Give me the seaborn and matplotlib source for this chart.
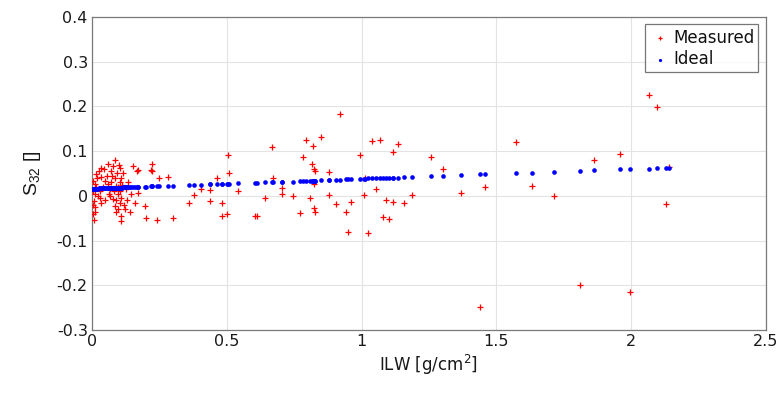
import matplotlib
matplotlib.use("Agg")
import matplotlib.pyplot as plt
import seaborn as sns
import pandas as pd

# ---- data ----
ilw = [0.002, 0.003, 0.004, 0.005, 0.007, 0.007, 0.010, 0.010, 0.010, 0.012,
       0.015, 0.016, 0.018, 0.022, 0.025, 0.029, 0.030, 0.035, 0.035, 0.035,
       0.040, 0.045, 0.047, 0.050, 0.055, 0.059, 0.059, 0.062, 0.066, 0.066,
       0.070, 0.072, 0.075, 0.078, 0.078, 0.080, 0.084, 0.084, 0.085, 0.088,
       0.090, 0.090, 0.092, 0.095, 0.096, 0.098, 0.100, 0.103, 0.103, 0.103,
       0.105, 0.108, 0.109, 0.109, 0.109, 0.112, 0.115, 0.118, 0.121, 0.125,
       0.130, 0.135, 0.140, 0.145, 0.152, 0.158, 0.168, 0.172, 0.172, 0.198,
       0.200, 0.220, 0.223, 0.224, 0.240, 0.250, 0.283, 0.302, 0.360, 0.378,
       0.403, 0.438, 0.438, 0.462, 0.481, 0.481, 0.502, 0.504, 0.509, 0.543,
       0.605, 0.611, 0.642, 0.666, 0.670, 0.706, 0.706, 0.744, 0.772, 0.784,
       0.793, 0.809, 0.817, 0.819, 0.823, 0.825, 0.825, 0.827, 0.827, 0.851,
       0.879, 0.880, 0.904, 0.920, 0.941, 0.948, 0.959, 0.994, 1.009, 1.013,
       1.025, 1.040, 1.053, 1.067, 1.078, 1.089, 1.103, 1.115, 1.118, 1.135,
       1.159, 1.187, 1.259, 1.303, 1.370, 1.440, 1.456, 1.574, 1.633, 1.712,
       1.811, 1.861, 1.958, 1.997, 2.066, 2.097, 2.129, 2.141]

measured = [-0.040, 0.010, 0.034, -0.020, -0.011, -0.054, 0.026, 0.004, -0.026, -0.037,
            0.020, 0.049, 0.040, 0.000, 0.055, 0.011, -0.005, 0.063, 0.043, -0.015,
            0.020, 0.060, 0.034, -0.010, 0.045, 0.072, 0.026, 0.005, 0.000, 0.015,
            0.030, 0.055, 0.045, 0.067, -0.007, 0.010, 0.080, -0.022, 0.040, -0.010,
            0.022, -0.037, 0.050, -0.030, 0.004, 0.020, 0.070, 0.063, 0.030, -0.015,
            0.010, -0.005, 0.041, -0.045, -0.056, 0.025, 0.050, -0.020, -0.030, 0.015,
            -0.010, 0.030, -0.035, 0.005, 0.067, -0.015, 0.056, 0.058, 0.007, -0.022,
            -0.049, 0.058, 0.071, 0.056, -0.054, 0.040, 0.043, -0.050, -0.015, 0.001,
            0.015, 0.013, -0.011, 0.039, -0.017, -0.045, -0.040, 0.091, 0.052, 0.010,
            -0.045, -0.045, -0.004, 0.110, 0.041, 0.017, 0.004, -0.001, -0.039, 0.086,
            0.126, -0.004, 0.072, 0.111, 0.026, 0.060, -0.028, 0.055, -0.036, 0.132,
            0.054, 0.002, -0.019, 0.182, -0.037, -0.080, -0.013, 0.092, 0.003, 0.041,
            -0.084, 0.123, 0.015, 0.125, -0.047, -0.009, -0.052, 0.097, -0.013, 0.117,
            -0.015, 0.003, 0.087, 0.060, 0.007, -0.249, 0.019, 0.120, 0.022, -0.001,
            -0.200, 0.081, 0.093, -0.216, 0.226, 0.198, -0.019, 0.064]

ideal = [0.016, 0.016, 0.016, 0.016, 0.016, 0.016, 0.016, 0.016, 0.016, 0.016,
         0.016, 0.016, 0.016, 0.016, 0.017, 0.017, 0.017, 0.017, 0.017, 0.017,
         0.017, 0.017, 0.017, 0.017, 0.017, 0.017, 0.017, 0.017, 0.017, 0.017,
         0.018, 0.018, 0.018, 0.018, 0.018, 0.018, 0.018, 0.018, 0.018, 0.018,
         0.018, 0.018, 0.018, 0.018, 0.018, 0.018, 0.018, 0.018, 0.018, 0.018,
         0.018, 0.018, 0.018, 0.018, 0.018, 0.018, 0.019, 0.019, 0.019, 0.019,
         0.019, 0.019, 0.019, 0.019, 0.019, 0.019, 0.020, 0.020, 0.020, 0.020,
         0.020, 0.021, 0.021, 0.021, 0.021, 0.022, 0.022, 0.023, 0.024, 0.024,
         0.025, 0.026, 0.026, 0.026, 0.027, 0.027, 0.027, 0.027, 0.027, 0.028,
         0.029, 0.029, 0.030, 0.031, 0.031, 0.032, 0.032, 0.032, 0.033, 0.033,
         0.033, 0.034, 0.034, 0.034, 0.034, 0.034, 0.034, 0.034, 0.034, 0.035,
         0.035, 0.035, 0.036, 0.036, 0.037, 0.037, 0.037, 0.038, 0.038, 0.038,
         0.039, 0.039, 0.039, 0.039, 0.040, 0.040, 0.040, 0.041, 0.041, 0.041,
         0.042, 0.042, 0.044, 0.045, 0.046, 0.048, 0.048, 0.051, 0.052, 0.054,
         0.056, 0.057, 0.059, 0.060, 0.061, 0.062, 0.063, 0.063]

x_ticks = [0, 0.5, 1, 1.5, 2, 2.5]
x_tick_labels = ["0", "0.5", "1", "1.5", "2", "2.5"]
y_ticks = [-0.3, -0.2, -0.1, 0, 0.1, 0.2, 0.3, 0.4]
y_tick_labels = ["-0.3", "-0.2", "-0.1", "0", "0.1", "0.2", "0.3", "0.4"]

df = pd.DataFrame({"ILW": ilw, "Measured": measured, "Ideal": ideal})

sns.set_theme(style="whitegrid")
plt.rcParams["font.family"] = ["DejaVu Sans"]

fig = plt.figure(figsize=(7.82, 3.94), dpi=100)
ax = fig.add_axes([0.1176, 0.1624, 0.8619, 0.7945])

sns.scatterplot(data=df, x="ILW", y="Measured", marker="+", color="red",
                s=24, linewidth=0.9, label="Measured", ax=ax, zorder=3)
sns.scatterplot(data=df, x="ILW", y="Ideal", marker="o", color="blue",
                s=11, linewidth=0, label="Ideal", ax=ax, zorder=4)

ax.set_xlim(0, 2.5)
ax.set_ylim(-0.3, 0.4)
ax.set_xticks(x_ticks)
ax.set_xticklabels(x_tick_labels)
ax.set_yticks(y_ticks)
ax.set_yticklabels(y_tick_labels)

ax.grid(True, color="#e3e3e3", linewidth=0.8)
ax.set_facecolor("white")
for sp in ax.spines.values():
    sp.set_visible(True)
    sp.set_color("#7a7a7a")
    sp.set_linewidth(0.9)
ax.tick_params(axis="both", direction="in", length=4, width=0.8,
               color="#7a7a7a", labelsize=11.5, labelcolor="#1a1a1a", pad=3)

ax.set_xlabel(r"ILW [g/cm$^{\mathregular{2}}$]", fontsize=12, color="#1a1a1a", labelpad=3)
ax.set_ylabel(r"S$_{\mathregular{32}}$ []", fontsize=14, color="#1a1a1a", labelpad=10,
              family=["Liberation Sans", "DejaVu Sans"])

leg = ax.legend(loc="upper right", frameon=True, fancybox=False, fontsize=12,
                borderaxespad=0.45, handletextpad=0.15, borderpad=0.25,
                labelspacing=0.2, handlelength=1.3, markerscale=0.7)
leg.get_frame().set_edgecolor("#555555")
leg.get_frame().set_linewidth(0.9)
for t in leg.get_texts():
    t.set_color("#111111")

fig.savefig("out.png", dpi=100)
